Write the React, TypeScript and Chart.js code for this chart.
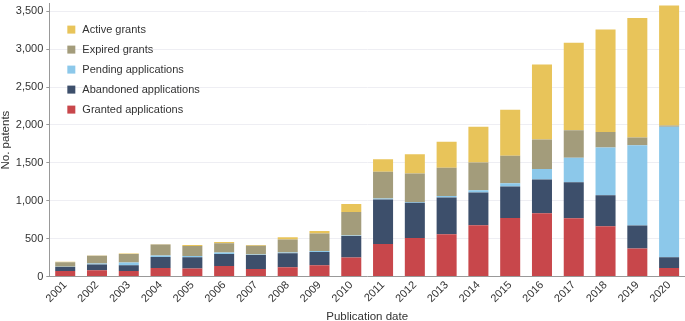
import React, { useEffect, useRef } from "react";
import { Chart, registerables } from "chart.js";

Chart.register(...registerables);

const years = ["2001","2002","2003","2004","2005","2006","2007","2008","2009","2010","2011","2012","2013","2014","2015","2016","2017","2018","2019","2020"];
const granted = [75, 83, 74, 114, 105, 140, 100, 123, 149, 251, 430, 510, 558, 677, 774, 836, 770, 664, 370, 114];
const abandoned = [50, 75, 75, 145, 150, 159, 185, 185, 176, 285, 586, 462, 485, 432, 414, 444, 475, 409, 303, 141];
const pending = [5, 15, 35, 18, 17, 17, 5, 8, 13, 5, 14, 13, 21, 30, 44, 140, 321, 630, 1060, 1720];
const expired = [60, 100, 115, 145, 132, 124, 115, 172, 230, 312, 351, 375, 370, 366, 360, 388, 365, 202, 102, 18];
const active = [5, 5, 5, 5, 13, 17, 12, 30, 34, 105, 167, 254, 343, 470, 607, 990, 1152, 1355, 1575, 1583];
const yTicks = [0, 500, 1000, 1500, 2000, 2500, 3000, 3500];
const yMax = 3600;

const FONT = "'Liberation Sans', Arial, sans-serif";
const SHIFT = 6;

const legendPlugin = {
  id: "insideLegend",
  afterDraw(chart: any) {
    const { ctx, chartArea } = chart;
    const ds = chart.data.datasets.slice().reverse();
    ctx.save();
    ctx.font = `11px ${FONT}`;
    ctx.textBaseline = "middle";
    ctx.textAlign = "left";
    ds.forEach((d: any, i: number) => {
      const y = chartArea.top + 26 + i * 20;
      const x = chartArea.left + 18;
      ctx.fillStyle = d.backgroundColor;
      ctx.fillRect(x, y - 4, 8, 8);
      ctx.fillStyle = "#333";
      ctx.fillText(d.label, x + 15, y);
    });
    ctx.restore();
  },
};

export default function App() {
  const ref = useRef<HTMLCanvasElement | null>(null);
  useEffect(() => {
    document.body.style.margin = "0";
    const ctx = ref.current!;
    const mk = (label: string, data: number[], color: string) => ({
      label,
      data,
      backgroundColor: color,
      borderWidth: 0,
      barPercentage: 0.63,
      categoryPercentage: 1,
    });
    const chart = new Chart(ctx, {
      type: "bar",
      data: {
        labels: years,
        datasets: [
          mk("Granted applications", granted, "#C8474B"),
          mk("Abandoned applications", abandoned, "#3D4F6B"),
          mk("Pending applications", pending, "#8CC8EA"),
          mk("Expired grants", expired, "#A39C7B"),
          mk("Active grants", active, "#E8C45A"),
        ],
      },
      plugins: [legendPlugin],
      options: {
        animation: false,
        responsive: false,
        layout: { padding: { top: 0, right: 0, left: 0, bottom: 0 } },
        plugins: {
          tooltip: { enabled: false },
          legend: { display: false },
        },
        scales: {
          x: {
            stacked: true,
            grid: { display: false, drawTicks: false },
            border: { color: "#999" },
            ticks: {
              color: "#333",
              font: { family: FONT, size: 11 },
              minRotation: 45,
              maxRotation: 45,
              padding: 2,
            },
            title: {
              display: true,
              text: "Publication date",
              color: "#333",
              font: { family: FONT, size: 11.5 },
              padding: { top: 3, bottom: -3 },
            },
          },
          y: {
            stacked: true,
            min: 0,
            max: yMax,
            afterBuildTicks: (axis: any) => {
              axis.ticks = [...yTicks, yMax].map((v) => ({ value: v }));
            },
            grid: {
              color: (c: any) => (c.tick && c.tick.value === yMax ? "rgba(0,0,0,0)" : "#eeeef3"),
              drawTicks: true,
              tickLength: 3,
              tickColor: (c: any) => (c.tick && c.tick.value === yMax ? "rgba(0,0,0,0)" : "#999"),
            },
            border: { color: "#999" },
            ticks: {
              color: "#333",
              padding: 3,
              font: { family: FONT, size: 11 },
              callback: (v: any) => (Number(v) === yMax ? null : Number(v).toLocaleString("en-US")),
            },
            title: {
              display: true,
              text: "No. patents",
              color: "#333",
              font: { family: FONT, size: 11.5 },
              padding: { top: -1, bottom: 0 },
            },
          },
        },
      },
    });
    return () => chart.destroy();
  }, []);
  return (
    <div style={{ width: 685, height: 321, overflow: "hidden" }}>
      <canvas
        ref={ref}
        width={685}
        height={321 + SHIFT}
        style={{ display: "block", marginTop: -SHIFT }}
      />
    </div>
  );
}
